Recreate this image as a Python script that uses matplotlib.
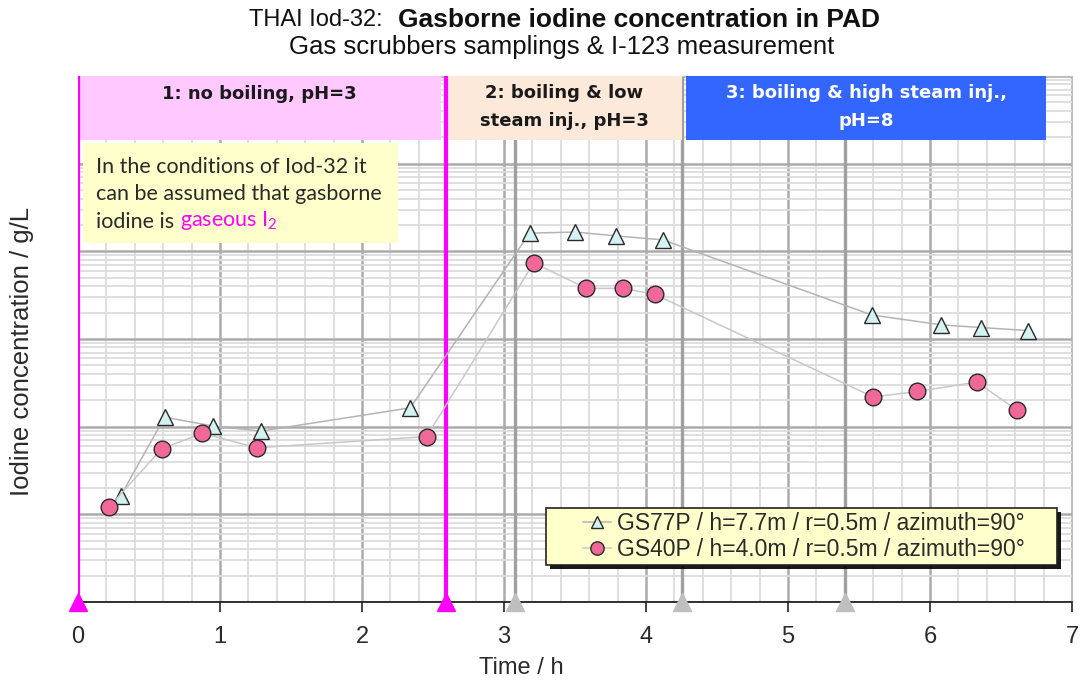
import matplotlib
matplotlib.use("Agg")
import matplotlib.pyplot as plt
import matplotlib.transforms as mtransforms
import matplotlib.patheffects as pe
from matplotlib.ticker import LogLocator, NullFormatter, MultipleLocator

# ---- data ----
t_gs77 = [0.30, 0.61, 0.95, 1.29, 2.34, 3.18, 3.50, 3.79, 4.12, 5.59, 6.08, 6.36, 6.69]
c_gs77 = [1.62e-8, 1.28e-7, 1.02e-7, 8.9e-8, 1.64e-7, 1.61e-5, 1.66e-5, 1.50e-5, 1.35e-5,
          1.88e-6, 1.45e-6, 1.35e-6, 1.25e-6]
t_gs40 = [0.22, 0.59, 0.875, 1.26, 2.455, 3.21, 3.58, 3.84, 4.06, 5.60, 5.91, 6.33, 6.61]
c_gs40 = [1.22e-8, 5.6e-8, 8.4e-8, 5.75e-8, 7.7e-8, 7.4e-6, 3.78e-6, 3.78e-6, 3.24e-6,
          2.18e-7, 2.52e-7, 3.23e-7, 1.55e-7]
label_gs77 = "GS77P / h=7.7m / r=0.5m / azimuth=90°"
label_gs40 = "GS40P / h=4.0m / r=0.5m / azimuth=90°"

phase_starts = [0.0, 2.59]           # magenta markers
event_times = [3.08, 4.25, 5.40]     # gray markers
phase_labels = [["1: no boiling, pH=3"], ["2: boiling & low", "steam inj., pH=3"],
                ["3: boiling & high steam inj.,", "pH=8"]]
phase_spans = [(0.0, 2.555), (2.60, 4.25), (4.28, 6.82)]
phase_colors = ["#ffc8ff", "#fde9da", "#3366ff"]
phase_text_colors = ["#1a1a1a", "#1a1a1a", "white"]
info_lines = ["In the conditions of Iod-32 it", "can be assumed that gasborne", "iodine is "]
info_highlight = r"gaseous I$_\mathregular{2}$"
xticks = [0, 1, 2, 3, 4, 5, 6, 7]

W, H = 1083, 682
fig = plt.figure(figsize=(W / 100, H / 100), dpi=100)
ax = fig.add_axes([78 / W, 1 - 602 / H, (1072 - 78) / W, (602 - 76) / H])

def ay(py):
    """pixel row (from top of figure) -> axes fraction"""
    return (602 - py) / (602 - 76)

def axx(px):
    """pixel column -> axes fraction"""
    return (px - 78) / (1072 - 78)

ax.set_yscale("log")
ax.set_ylim(1e-9, 1e-3)
ax.set_xlim(0, 7)

# grid
ax.xaxis.set_major_locator(MultipleLocator(1))
ax.xaxis.set_minor_locator(MultipleLocator(0.2))
ax.yaxis.set_major_locator(LogLocator(base=10, numticks=20))
ax.yaxis.set_minor_locator(LogLocator(base=10, subs=range(2, 10), numticks=100))
ax.yaxis.set_major_formatter(NullFormatter())
ax.yaxis.set_minor_formatter(NullFormatter())
ax.grid(which="minor", color="#dcdcdc", lw=1.3, zorder=0)
ax.grid(which="major", color="#ababab", lw=1.8, zorder=0)
ax.set_axisbelow(True)
ax.tick_params(axis="y", which="both", length=0)
ax.tick_params(axis="x", which="minor", length=0)
ax.tick_params(axis="x", which="major", length=7, width=1.2, color="#222222",
               labelsize=17, pad=10, direction="out")
ax.set_xticks(xticks)
for lab in ax.get_xticklabels():
    lab.set_fontfamily("Liberation Sans")
    lab.set_color("#2a2a2a")

for s in ["top", "right", "left"]:
    ax.spines[s].set_color("#bdbdbd")
ax.spines["bottom"].set_color("#222222")
ax.spines["bottom"].set_linewidth(1.3)

trans = mtransforms.blended_transform_factory(ax.transData, ax.transAxes)

# gray event lines
for tv in event_times:
    ax.axvline(tv, color="#a0a0a0", lw=2.4, zorder=1)
    ax.plot([tv], [0], transform=trans, marker="^", ms=13, color="#bfbfbf",
            mec="#bfbfbf", clip_on=False, zorder=6)

# magenta phase lines
for tv in phase_starts:
    ax.axvline(tv, color="#ff00ff", lw=3, zorder=4)
    ax.plot([tv], [0], transform=trans, marker="^", ms=13, color="#ff00ff",
            mec="#ff00ff", clip_on=False, zorder=7)

# phase boxes
line_rows = {1: [94], 2: [93, 121]}
for (x0, x1), col, lines, tc in zip(phase_spans, phase_colors, phase_labels, phase_text_colors):
    ax.add_patch(plt.Rectangle((x0, ay(140)), x1 - x0, 1 - ay(140), transform=trans,
                               facecolor=col, edgecolor="none", zorder=3))
    for txt, py in zip(lines, line_rows[len(lines)]):
        ax.text((x0 + x1) / 2, ay(py), txt, transform=trans, ha="center", va="center",
                fontsize=13, fontweight="bold", family="DejaVu Sans", color=tc, zorder=5)

# info box
ax.add_patch(plt.Rectangle((0.035, ay(243)), 2.215, ay(143) - ay(243), transform=trans,
                           facecolor="#ffffcc", edgecolor="none", zorder=3))
last = None
for txt, py in zip(info_lines, [167, 194, 222]):
    last = ax.text(0.13, ay(py), txt, transform=trans, ha="left", va="center",
                   fontsize=15.5, family="Lato", color="#2a2a2a", zorder=5)
ax.annotate(info_highlight, xy=(1, 0), xycoords=last, ha="left", va="bottom",
            fontsize=15.5, family="Lato", color="#ff00ff", zorder=5)

# data
ax.plot(t_gs77, c_gs77, color="#b4b4b4", lw=1.1, marker="^", ms=11.5,
        mfc="#d4f2f2", mec="#2a2a2a", mew=1.0, zorder=8, label=label_gs77)
ax.plot(t_gs40, c_gs40, color="#c8c8c8", lw=1.1, marker="o", ms=12,
        mfc="#f06899", mec="#2a2a2a", mew=1.0, zorder=8, label=label_gs40)

# legend frame (drawn by hand for the wide padding of the original)
ax.add_patch(plt.Rectangle((axx(546), ay(565)), axx(1057) - axx(546), ay(508) - ay(565),
                           transform=ax.transAxes, facecolor="#ffffcc", edgecolor="#222222",
                           lw=1.2, zorder=10, clip_on=False,
                           path_effects=[pe.SimplePatchShadow(offset=(3, -3), shadow_rgbFace="black",
                                                              alpha=0.9), pe.Normal()]))
leg = ax.legend(loc="center left", bbox_to_anchor=(axx(583), ay(536.5)), borderaxespad=0,
                frameon=False, handlelength=1.2, handletextpad=0.3, borderpad=0,
                labelspacing=0.12, markerscale=0.8,
                prop={"family": "Liberation Sans", "size": 16.5})
leg.set_zorder(11)
for t in leg.get_texts():
    t.set_color("#2a2a2a")

# labels
fig.text(521 / W, 1 - 668 / H, "Time / h", ha="center", va="center", fontsize=17,
         family="Liberation Sans", color="#2a2a2a")
fig.text(22 / W, 1 - 496 / H, "Iodine concentration / g/L", rotation=90, ha="center",
         va="bottom", fontsize=18.5, family="Liberation Sans", color="#2a2a2a")

fig.text(396 / W, 1 - 20 / H, "THAI Iod-32:  ", ha="right", va="center", fontsize=17,
         family="Liberation Sans", color="#111111")
fig.text(398 / W, 1 - 20 / H, "Gasborne iodine concentration in PAD", ha="left", va="center",
         fontsize=19, family="Liberation Sans", fontweight="bold", color="#111111")
fig.text(562 / W, 1 - 47 / H, "Gas scrubbers samplings & I-123 measurement", ha="center",
         va="center", fontsize=18.5, family="Liberation Sans", color="#111111")

fig.savefig("out.png", dpi=100)
